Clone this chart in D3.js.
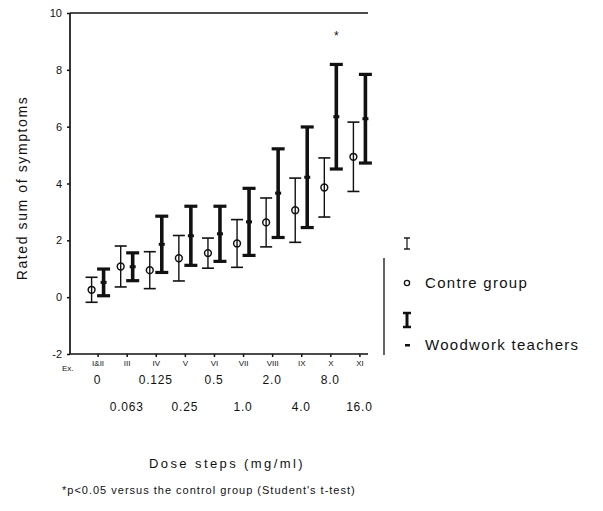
<!DOCTYPE html>
<html>
<head>
<meta charset="utf-8">
<script src="https://cdn.jsdelivr.net/npm/d3@7"></script>
<style>
  body { margin: 0; background: #fff; }
  svg { font-family: "Liberation Sans", Arial, sans-serif; }
</style>
</head>
<body>
<svg width="603" height="511"></svg>
<script>
// dose steps and the step codes printed under the axis
let doses = ["0", "0.063", "0.125", "0.25", "0.5", "1.0", "2.0", "4.0", "8.0", "16.0"];
let stepCodes = ["I&II", "III", "IV", "V", "VI", "VII", "VIII", "IX", "X", "XI"];

// mean and SD of the rated sum of symptoms
let controlMean = [0.26, 1.08, 0.95, 1.37, 1.55, 1.89, 2.63, 3.06, 3.86, 4.94];
let controlSd   = [0.44, 0.72, 0.65, 0.80, 0.53, 0.84, 0.86, 1.13, 1.04, 1.22];
let woodMean    = [0.52, 1.07, 1.86, 2.16, 2.23, 2.65, 3.66, 4.22, 6.35, 6.28];
let woodSd      = [0.47, 0.49, 0.99, 1.04, 0.97, 1.18, 1.56, 1.77, 1.84, 1.56];
let significant = [false, false, false, false, false, false, false, false, true, false];

let yTicks = [-2, 0, 2, 4, 6, 8, 10];

let svg = d3.select('svg');

let x = d3.scalePoint()
          .domain(doses)
          .range([68.5, 388.5])
          .padding(1);

let y = d3.scaleLinear()
          .domain([-2, 10])
          .range([354, 13]);

let offset = 6;
let ink = '#111';

// frame: left axis, top line, bottom axis
let yAxis = d3.axisLeft(y).tickValues(yTicks).tickSize(3).tickPadding(5)
              .tickFormat((d) => d < 0 ? '-' + Math.abs(d) : d);
let gy = svg.append('g').attr('transform', 'translate(70,0)').call(yAxis);
gy.select('.domain').remove();
gy.selectAll('text').attr('font-size', 11).attr('fill', ink);
gy.selectAll('line').attr('stroke', ink).attr('stroke-width', 1.5);

svg.append('line').attr('x1', 70).attr('x2', 70).attr('y1', y(10)).attr('y2', y(-2))
   .attr('stroke', ink).attr('stroke-width', 1.7);
svg.append('line').attr('x1', 70).attr('x2', 368).attr('y1', y(10)).attr('y2', y(10))
   .attr('stroke', ink).attr('stroke-width', 1.7);

let xAxis = d3.axisBottom(x).tickSize(3).tickFormat((d, i) => stepCodes[i]).tickPadding(3);
let gx = svg.append('g').attr('transform', 'translate(0,' + y(-2) + ')').call(xAxis);
gx.select('.domain').remove();
gx.selectAll('line').attr('stroke', ink).attr('stroke-width', 1.5);
gx.selectAll('text').attr('font-size', 8).attr('fill', ink);
svg.append('line').attr('x1', 70).attr('x2', 368).attr('y1', y(-2)).attr('y2', y(-2))
   .attr('stroke', ink).attr('stroke-width', 1.7);
svg.append('text').attr('x', 62).attr('y', y(-2) + 17).attr('font-size', 8)
   .attr('fill', ink).text('Ex.');

// dose labels, staggered in two rows
svg.selectAll('.dose')
   .data(doses)
   .enter()
   .append('text')
   .attr('class', 'dose')
   .attr('x', (d) => x(d))
   .attr('y', (d, i) => i % 2 === 0 ? 384 : 411)
   .attr('text-anchor', 'middle')
   .attr('font-size', 12)
   .attr('letter-spacing', 0.8)
   .attr('fill', ink)
   .text((d) => d);

// control group: thin bars with open circles
let ctrl = svg.append('g');
ctrl.selectAll('line.v')
    .data(doses)
    .enter()
    .append('line')
    .attr('x1', (d) => x(d) - offset)
    .attr('x2', (d) => x(d) - offset)
    .attr('y1', (d, i) => y(controlMean[i] - controlSd[i]))
    .attr('y2', (d, i) => y(controlMean[i] + controlSd[i]))
    .attr('stroke', ink).attr('stroke-width', 1.4);
[-1, 1].forEach((s) => {
  ctrl.selectAll('line.c' + s)
      .data(doses)
      .enter()
      .append('line')
      .attr('x1', (d) => x(d) - offset - 6)
      .attr('x2', (d) => x(d) - offset + 6)
      .attr('y1', (d, i) => y(controlMean[i] + s * controlSd[i]))
      .attr('y2', (d, i) => y(controlMean[i] + s * controlSd[i]))
      .attr('stroke', ink).attr('stroke-width', 1.6);
});
ctrl.selectAll('circle')
    .data(doses)
    .enter()
    .append('circle')
    .attr('cx', (d) => x(d) - offset)
    .attr('cy', (d, i) => y(controlMean[i]))
    .attr('r', 3.4)
    .attr('fill', 'none')
    .attr('stroke', ink).attr('stroke-width', 1.5);

// woodwork teachers: thick bars with a dash for the mean
let wood = svg.append('g');
wood.selectAll('line.v')
    .data(doses)
    .enter()
    .append('line')
    .attr('x1', (d) => x(d) + offset)
    .attr('x2', (d) => x(d) + offset)
    .attr('y1', (d, i) => y(woodMean[i] - woodSd[i]))
    .attr('y2', (d, i) => y(woodMean[i] + woodSd[i]))
    .attr('stroke', ink).attr('stroke-width', 3.6);
[-1, 1].forEach((s) => {
  wood.selectAll('line.c' + s)
      .data(doses)
      .enter()
      .append('line')
      .attr('x1', (d) => x(d) + offset - 6.5)
      .attr('x2', (d) => x(d) + offset + 6.5)
      .attr('y1', (d, i) => y(woodMean[i] + s * woodSd[i]))
      .attr('y2', (d, i) => y(woodMean[i] + s * woodSd[i]))
      .attr('stroke', ink).attr('stroke-width', 3.2);
});
wood.selectAll('rect')
    .data(doses)
    .enter()
    .append('rect')
    .attr('x', (d) => x(d) + offset - 3)
    .attr('y', (d, i) => y(woodMean[i]) - 1.5)
    .attr('width', 6)
    .attr('height', 3)
    .attr('fill', ink);

// significance marks
svg.selectAll('.sig')
   .data(doses.filter((d, i) => significant[i]))
   .enter()
   .append('text')
   .attr('class', 'sig')
   .attr('x', (d) => x(d) + offset)
   .attr('y', (d) => y(woodMean[doses.indexOf(d)] + woodSd[doses.indexOf(d)]) - 24)
   .attr('text-anchor', 'middle')
   .attr('font-size', 12)
   .attr('fill', ink)
   .text('*');

// axis titles and footnote
svg.append('text')
   .attr('transform', 'translate(27,' + 188 + ') rotate(-90)')
   .attr('text-anchor', 'middle')
   .attr('font-size', 14)
   .attr('letter-spacing', 1.6)
   .attr('fill', ink)
   .text('Rated sum of symptoms');

svg.append('text')
   .attr('x', 227).attr('y', 468)
   .attr('text-anchor', 'middle')
   .attr('font-size', 13)
   .attr('letter-spacing', 2.4)
   .attr('fill', ink)
   .text('Dose steps (mg/ml)');

svg.append('text')
   .attr('x', 62).attr('y', 494)
   .attr('font-size', 11)
   .attr('letter-spacing', 1.0)
   .attr('fill', ink)
   .text("*p<0.05 versus the control group (Student's t-test)");

// legend
let lg = svg.append('g');
lg.append('line').attr('x1', 384).attr('x2', 384).attr('y1', 258).attr('y2', 355)
  .attr('stroke', ink).attr('stroke-width', 1.3);

lg.append('line').attr('x1', 407).attr('x2', 407).attr('y1', 238).attr('y2', 249)
  .attr('stroke', ink).attr('stroke-width', 1.2);
[238, 249].forEach((v) => {
  lg.append('line').attr('x1', 404).attr('x2', 410).attr('y1', v).attr('y2', v)
    .attr('stroke', ink).attr('stroke-width', 1.4);
});
lg.append('circle').attr('cx', 407).attr('cy', 283).attr('r', 2.6)
  .attr('fill', 'none').attr('stroke', ink).attr('stroke-width', 1.3);
lg.append('text').attr('x', 425).attr('y', 288).attr('font-size', 15)
  .attr('letter-spacing', 1.3).attr('fill', ink).text('Contre group');

lg.append('line').attr('x1', 407).attr('x2', 407).attr('y1', 313).attr('y2', 327)
  .attr('stroke', ink).attr('stroke-width', 3);
[313, 327].forEach((v) => {
  lg.append('line').attr('x1', 403).attr('x2', 411).attr('y1', v).attr('y2', v)
    .attr('stroke', ink).attr('stroke-width', 2.5);
});
lg.append('rect').attr('x', 405).attr('y', 344).attr('width', 5).attr('height', 2.5).attr('fill', ink);
lg.append('text').attr('x', 425).attr('y', 350).attr('font-size', 15)
  .attr('letter-spacing', 1.3).attr('fill', ink).text('Woodwork teachers');
</script>
</body>
</html>
